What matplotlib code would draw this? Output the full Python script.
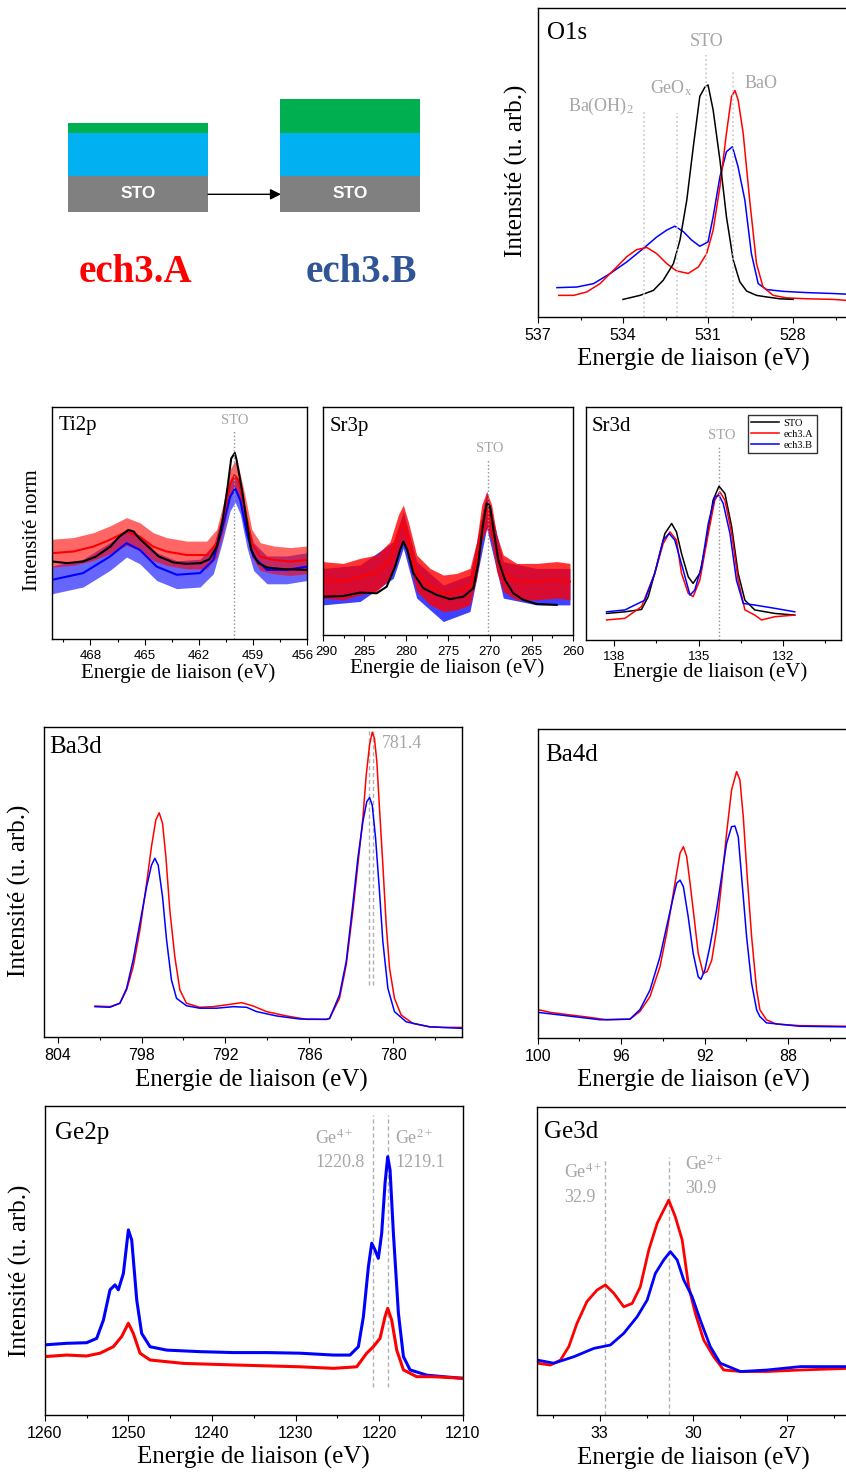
import matplotlib
matplotlib.use('Agg')
import matplotlib.pyplot as plt
from matplotlib.ticker import MultipleLocator
from matplotlib.transforms import ScaledTranslation

# Fonts: serif for labels, sans for the tick numbers
plt.rcParams['font.family'] = ['Liberation Serif', 'DejaVu Serif']
plt.rcParams['mathtext.fontset'] = 'custom'
plt.rcParams['mathtext.rm'] = 'Liberation Serif'
plt.rcParams['mathtext.it'] = 'Liberation Serif:italic'

RED = '#FF0000'
BLUE = '#0000FF'
GRAY = '#A6A6A6'
XLAB = 'Energie de liaison (eV)'

# ---------------- data ----------------
# schematic layer thicknesses (STO, blue layer, green layer)
layer_colors = ['#808080', '#00B0F0', '#00B050']
layers_A = [36, 42.4, 10]
layers_B = [36, 43, 33.4]
sample_names = ['ech3.A', 'ech3.B']

# O1s
o1s_sto_e = [534.0, 533.4, 532.93, 532.58, 532.22, 531.99, 531.75, 531.52, 531.29, 531.11, 531.0, 530.82,
             530.58, 530.35, 530.11, 529.88, 529.64, 529.29, 528.94, 528.47, 528.0]
o1s_sto_y = [0.057, 0.07, 0.086, 0.119, 0.173, 0.249, 0.378, 0.551, 0.714, 0.744, 0.751, 0.670,
             0.508, 0.324, 0.184, 0.114, 0.084, 0.070, 0.065, 0.059, 0.057]
o1s_a_e = [536.27, 535.74, 535.28, 534.81, 534.34, 533.87, 533.52, 533.16, 532.81, 532.46, 532.11, 531.70,
           531.34, 531.05, 530.82, 530.58, 530.35, 530.17, 530.05, 529.94, 529.76, 529.53, 529.29, 529.06,
           528.70, 528.23, 527.53, 526.59, 526.15]
o1s_a_y = [0.07, 0.07, 0.081, 0.108, 0.151, 0.195, 0.218, 0.225, 0.205, 0.173, 0.149, 0.141,
           0.162, 0.205, 0.281, 0.422, 0.595, 0.714, 0.733, 0.703, 0.595, 0.378, 0.173, 0.097,
           0.070, 0.062, 0.059, 0.057, 0.054]
o1s_b_e = [536.33, 535.63, 535.04, 534.45, 533.87, 533.28, 532.81, 532.46, 532.17, 531.87, 531.58, 531.29,
           531.0, 530.82, 530.58, 530.35, 530.14, 529.94, 529.70, 529.47, 529.23, 528.94, 528.35, 527.53,
           526.59, 526.15]
o1s_b_y = [0.095, 0.097, 0.108, 0.141, 0.178, 0.222, 0.259, 0.281, 0.294, 0.276, 0.249, 0.229,
           0.243, 0.324, 0.454, 0.535, 0.551, 0.486, 0.378, 0.205, 0.108, 0.089, 0.083, 0.079,
           0.076, 0.074]
o1s_ref_e = [533.25, 532.1, 531.07, 530.13]
o1s_ref_top = [0.663, 0.66, 0.848, 0.793]

# Ti2p
ti_sto_e = [470.1, 469.3, 468.4, 467.7, 466.9, 466.4, 465.9, 465.6, 465.3, 464.7, 464.2, 463.4, 462.7, 461.9,
            461.4, 461.0, 460.7, 460.4, 460.2, 460.0, 459.9, 459.6, 459.3, 459.1, 458.7, 458.2, 457.3, 456.0]
ti_sto_y = [0.334, 0.327, 0.334, 0.355, 0.398, 0.441, 0.470, 0.463, 0.434, 0.391, 0.355, 0.330, 0.324, 0.327,
            0.344, 0.398, 0.499, 0.656, 0.778, 0.802, 0.771, 0.642, 0.484, 0.384, 0.327, 0.308, 0.301, 0.298]
ti_a_e = [470.13, 468.96, 467.85, 466.93, 466.0, 465.26, 464.52, 463.78, 462.67, 461.56, 461.0, 460.63,
          460.26, 460.02, 459.80, 459.43, 459.06, 458.59, 457.85, 456.93, 456.0]
ti_a_y = [0.370, 0.377, 0.398, 0.427, 0.463, 0.441, 0.398, 0.377, 0.362, 0.362, 0.413, 0.527,
          0.670, 0.706, 0.685, 0.556, 0.413, 0.355, 0.341, 0.334, 0.341]
ti_b_e = [470.13, 468.41, 466.93, 466.0, 465.26, 464.33, 463.22, 461.93, 461.19, 460.72, 460.26, 459.98,
          459.70, 459.33, 458.96, 458.22, 457.11, 456.0]
ti_b_y = [0.255, 0.284, 0.355, 0.413, 0.384, 0.312, 0.277, 0.284, 0.341, 0.470, 0.613, 0.649,
          0.599, 0.456, 0.355, 0.298, 0.298, 0.312]
ti_noise = 0.06

# Sr3p
sr3p_sto_e = [290.0, 287.53, 285.53, 283.54, 282.34, 281.34, 280.74, 280.35, 279.87, 279.15, 277.95, 276.36,
              274.76, 273.16, 271.97, 271.37, 270.85, 270.37, 269.97, 269.49, 268.98, 268.18, 267.18, 265.98,
              264.39, 261.99]
sr3p_sto_y = [0.168, 0.171, 0.186, 0.183, 0.212, 0.300, 0.373, 0.410, 0.373, 0.271, 0.205, 0.176,
              0.157, 0.168, 0.205, 0.315, 0.476, 0.578, 0.564, 0.447, 0.329, 0.242, 0.183, 0.154,
              0.136, 0.132]
sr3p_a_e = [290.0, 287.53, 285.53, 283.54, 281.94, 280.94, 280.35, 279.75, 278.75, 277.15, 275.56, 273.96,
            272.37, 271.57, 270.97, 270.37, 269.77, 269.18, 268.38, 266.78, 264.39, 261.99, 260.40]
sr3p_a_y = [0.242, 0.234, 0.256, 0.271, 0.329, 0.447, 0.490, 0.417, 0.271, 0.212, 0.183, 0.190,
            0.212, 0.329, 0.490, 0.549, 0.490, 0.359, 0.271, 0.234, 0.234, 0.242, 0.234]
sr3p_b_e = [290.0, 285.53, 281.54, 280.35, 278.75, 275.56, 272.37, 270.37, 268.38, 264.39, 260.40]
sr3p_b_y = [0.212, 0.227, 0.329, 0.461, 0.242, 0.139, 0.183, 0.549, 0.242, 0.212, 0.212]
sr3p_noise = 0.08

# Sr3d
sr3d_sto_e = [138.27, 137.62, 137.03, 136.79, 136.50, 136.20, 135.96, 135.79, 135.61, 135.37, 135.20, 134.96,
              134.72, 134.49, 134.28, 134.07, 133.83, 133.60, 133.36, 133.01, 132.30, 131.59]
sr3d_sto_y = [0.114, 0.121, 0.131, 0.186, 0.314, 0.457, 0.500, 0.464, 0.371, 0.271, 0.243, 0.286,
              0.429, 0.600, 0.660, 0.629, 0.486, 0.286, 0.171, 0.129, 0.114, 0.107]
sr3d_a_e = [138.27, 137.62, 137.03, 136.56, 136.26, 136.02, 135.79, 135.61, 135.37, 135.20, 134.96, 134.66,
            134.43, 134.25, 134.07, 133.83, 133.60, 133.36, 133.01, 132.77, 132.30, 131.59]
sr3d_a_y = [0.086, 0.093, 0.143, 0.286, 0.414, 0.464, 0.429, 0.286, 0.200, 0.186, 0.257, 0.457,
            0.600, 0.636, 0.600, 0.457, 0.257, 0.129, 0.107, 0.086, 0.100, 0.107]
sr3d_b_e = [138.27, 137.62, 136.91, 136.56, 136.26, 136.05, 135.85, 135.55, 135.31, 135.14, 134.90, 134.66,
            134.43, 134.28, 134.13, 133.89, 133.66, 133.42, 133.01, 132.30, 131.59]
sr3d_b_y = [0.121, 0.129, 0.171, 0.286, 0.429, 0.457, 0.429, 0.300, 0.193, 0.214, 0.314, 0.500,
            0.614, 0.621, 0.586, 0.457, 0.257, 0.157, 0.150, 0.136, 0.121]

# Ba3d
ba3d_a_e = [801.33, 800.26, 799.55, 799.07, 798.6, 798.12, 797.64, 797.29, 796.98, 796.74, 796.5, 796.26,
            795.98, 795.62, 795.26, 794.79, 793.84, 792.87, 791.44, 790.84, 790.01, 789.06, 787.63, 786.2,
            784.77, 784.55, 783.84, 783.36, 782.89, 782.53, 782.17, 781.93, 781.69, 781.5, 781.34, 781.17,
            780.98, 780.74, 780.5, 780.26, 779.91, 779.43, 778.6, 777.41, 776.43, 775.11]
ba3d_a_y = [0.099, 0.097, 0.108, 0.151, 0.226, 0.344, 0.495, 0.614, 0.700, 0.723, 0.689, 0.581,
            0.409, 0.258, 0.151, 0.108, 0.095, 0.097, 0.106, 0.110, 0.099, 0.081, 0.067, 0.056,
            0.056, 0.059, 0.124, 0.232, 0.404, 0.554, 0.705, 0.845, 0.942, 0.983, 0.963, 0.888,
            0.737, 0.554, 0.361, 0.221, 0.124, 0.070, 0.043, 0.032, 0.030, 0.030]
ba3d_b_e = [801.33, 800.26, 799.55, 799.07, 798.6, 798.12, 797.64, 797.29, 797.05, 796.81, 796.5, 796.21,
            795.86, 795.5, 794.79, 793.84, 792.63, 791.44, 790.49, 789.77, 788.34, 786.67, 784.77, 784.55,
            783.84, 783.36, 782.89, 782.53, 782.17, 781.89, 781.69, 781.5, 781.26, 780.98, 780.74, 780.38,
            779.91, 779.07, 777.41, 775.11]
ba3d_b_y = [0.097, 0.095, 0.108, 0.156, 0.248, 0.366, 0.484, 0.554, 0.576, 0.554, 0.452, 0.312,
            0.183, 0.124, 0.100, 0.092, 0.092, 0.097, 0.095, 0.081, 0.067, 0.057, 0.056, 0.059,
            0.135, 0.243, 0.426, 0.575, 0.694, 0.759, 0.772, 0.748, 0.641, 0.469, 0.307, 0.156,
            0.081, 0.048, 0.032, 0.027]
ba3d_ref_e = [781.72, 781.43]

# Ba4d
ba4d_a_e = [100.0, 99.41, 98.61, 97.65, 96.7, 95.58, 95.1, 94.62, 94.14, 93.82, 93.58, 93.37, 93.18, 93.02,
            92.86, 92.70, 92.51, 92.31, 92.07, 91.88, 91.66, 91.43, 91.19, 90.95, 90.71, 90.47, 90.31,
            90.15, 89.96, 89.75, 89.51, 89.35, 89.04, 88.56, 87.44, 85.24]
ba4d_a_y = [0.092, 0.083, 0.076, 0.068, 0.059, 0.061, 0.086, 0.134, 0.231, 0.339, 0.436, 0.522, 0.598, 0.619,
            0.587, 0.501, 0.393, 0.274, 0.209, 0.215, 0.252, 0.350, 0.501, 0.662, 0.803, 0.862, 0.835,
            0.716, 0.522, 0.328, 0.155, 0.091, 0.059, 0.045, 0.040, 0.038]
ba4d_b_e = [100.0, 98.61, 97.01, 95.58, 95.1, 94.62, 94.14, 93.82, 93.50, 93.34, 93.18, 93.02, 92.79, 92.55,
            92.31, 92.18, 91.99, 91.75, 91.43, 91.19, 90.95, 90.71, 90.55, 90.39, 90.23, 89.99, 89.75,
            89.51, 89.36, 89.04, 87.44, 85.24]
ba4d_b_y = [0.083, 0.072, 0.059, 0.061, 0.092, 0.155, 0.263, 0.361, 0.457, 0.501, 0.511, 0.490, 0.393, 0.274,
            0.198, 0.190, 0.220, 0.296, 0.414, 0.522, 0.630, 0.684, 0.686, 0.651, 0.522, 0.328, 0.177,
            0.091, 0.070, 0.049, 0.038, 0.036]

# Ge2p
ge2p_b_e = [1260.0, 1257.37, 1254.98, 1253.78, 1252.98, 1252.19, 1251.59, 1251.19, 1250.59, 1249.99, 1249.59,
            1248.99, 1248.40, 1247.40, 1245.41, 1241.42, 1237.43, 1233.45, 1229.46, 1225.47, 1223.48, 1222.48,
            1221.88, 1221.28, 1220.88, 1220.49, 1220.09, 1219.69, 1219.29, 1218.97, 1218.69, 1218.29, 1217.69,
            1217.09, 1216.30, 1214.30, 1212.31, 1210.12]
ge2p_b_y = [0.227, 0.232, 0.234, 0.248, 0.307, 0.405, 0.421, 0.405, 0.458, 0.599, 0.566,
            0.372, 0.264, 0.221, 0.210, 0.205, 0.202, 0.202, 0.200, 0.194, 0.194, 0.221,
            0.318, 0.480, 0.556, 0.534, 0.507, 0.588, 0.750, 0.836, 0.793, 0.588, 0.329,
            0.189, 0.146, 0.129, 0.124, 0.119]
ge2p_a_e = [1260.0, 1257.37, 1254.98, 1253.38, 1251.79, 1250.79, 1249.99, 1249.40, 1248.60, 1247.40, 1243.41,
            1237.43, 1229.46, 1225.47, 1222.68, 1221.48, 1220.69, 1219.89, 1219.29, 1218.97, 1218.49, 1217.89,
            1217.09, 1215.50, 1213.50, 1210.12]
ge2p_a_y = [0.189, 0.194, 0.191, 0.200, 0.221, 0.254, 0.297, 0.264, 0.200, 0.178, 0.167,
            0.162, 0.156, 0.151, 0.156, 0.200, 0.221, 0.248, 0.318, 0.345, 0.307, 0.210,
            0.146, 0.124, 0.124, 0.119]
ge2p_ref_e = [1220.7, 1218.9]
ge2p_ref_lab = ['Ge$^{4+}$\n1220.8', 'Ge$^{2+}$\n1219.1']

# Ge3d
ge3d_a_e = [34.99, 34.58, 34.26, 33.99, 33.73, 33.41, 33.09, 32.82, 32.55, 32.23, 31.96, 31.70, 31.43, 31.16,
            30.95, 30.79, 30.58, 30.36, 30.15, 29.94, 29.67, 29.35, 29.03, 28.49, 27.64, 26.57, 25.10]
ge3d_a_y = [0.168, 0.162, 0.178, 0.222, 0.297, 0.368, 0.405, 0.422, 0.395, 0.351, 0.362, 0.416, 0.535, 0.622,
            0.665, 0.697, 0.643, 0.568, 0.416, 0.330, 0.243, 0.189, 0.146, 0.141, 0.141, 0.146, 0.151]
ge3d_b_e = [34.99, 34.47, 33.83, 33.19, 32.66, 32.23, 31.80, 31.48, 31.22, 30.95, 30.74, 30.52, 30.31, 30.04,
            29.78, 29.46, 29.14, 28.49, 27.64, 26.57, 25.10]
ge3d_b_y = [0.178, 0.168, 0.189, 0.216, 0.227, 0.265, 0.319, 0.373, 0.459, 0.503, 0.530, 0.503, 0.438, 0.384,
            0.308, 0.222, 0.168, 0.141, 0.146, 0.157, 0.157]
ge3d_ref_e = [32.82, 30.79]
ge3d_ref_top = [0.827, 0.838]
ge3d_ref_lab = ['Ge$^{4+}$\n32.9', 'Ge$^{2+}$\n30.9']

# ---------------- figure ----------------
W, H = 846, 1475
fig = plt.figure(figsize=(W / 100, H / 100), dpi=100)


def make_ax(box, xlim, major, minor, small=False):
    left, top, right, bottom = box
    ax = fig.add_axes([left / W, 1 - bottom / H, (right - left) / W, (bottom - top) / H])
    ax.set_xlim(xlim)
    ax.set_ylim(0, 1)
    ax.set_yticks([])
    ax.xaxis.set_major_locator(MultipleLocator(major))
    ax.xaxis.set_minor_locator(MultipleLocator(minor))
    ax.tick_params(axis='x', which='major', direction='out', length=4, width=0.8,
                   labelsize=9.5 if small else 11.5, labelfontfamily='Liberation Sans', pad=4)
    ax.tick_params(axis='x', which='minor', direction='out', length=2.5, width=0.8)
    for s in ax.spines.values():
        s.set_linewidth(1.0)
    return ax


def labels(ax, title, tpos, ylab=None, ypos=None, xpos=(0.495, -0.14), small=False):
    fs = 15 if small else 18
    ax.text(tpos[0], tpos[1], title, transform=ax.transAxes, fontsize=fs, ha='left', va='center')
    ax.set_xlabel(XLAB, fontsize=fs, va='center')
    ax.xaxis.set_label_coords(*xpos)
    if ylab:
        ax.set_ylabel(ylab, fontsize=fs, va='center')
        ax.yaxis.set_label_coords(*ypos)


def nudge_tick(ax, value, dx_px):
    # shift one tick label sideways so neighbouring panels' labels do not collide
    locs = list(ax.get_xticks())
    ticks = ax.xaxis.get_major_ticks()
    for loc, t in zip(locs, ticks):
        if abs(loc - value) < 1e-6:
            t.label1.set_transform(t.label1.get_transform() +
                                   ScaledTranslation(dx_px / 100, 0, fig.dpi_scale_trans))


# schematic
axs = fig.add_axes([0, 1 - 300 / H, 440 / W, 220 / H])
axs.set_xlim(0, 440)
axs.set_ylim(0, 220)
axs.axis('off')
for xc, lay in zip([138, 350], [layers_A, layers_B]):
    bottom = 88.3
    for c, t in zip(layer_colors, lay):
        axs.bar(xc, t, bottom=bottom, width=140, color=c, linewidth=0)
        bottom += t
    axs.text(xc, 88.3 + layers_A[0] / 2, 'STO', color='white', fontsize=12.5, fontweight='bold',
             family='Liberation Sans', ha='center', va='center')
axs.annotate('', xy=(281, 105.7), xytext=(208, 105.7),
             arrowprops=dict(arrowstyle='-|>', color='black', lw=1, mutation_scale=16, shrinkA=0, shrinkB=0))
axs.text(135, 28, sample_names[0], color=RED, fontsize=28, fontweight='bold', ha='center', va='center')
axs.text(361, 28, sample_names[1], color='#2F5597', fontsize=28, fontweight='bold', ha='center', va='center')

# O1s
ax = make_ax((538, 8, 852, 317), (537, 525.92), 3, 1.5)
ax.plot(o1s_b_e, o1s_b_y, color=BLUE, lw=1.1)
ax.plot(o1s_a_e, o1s_a_y, color=RED, lw=1.1)
ax.plot(o1s_sto_e, o1s_sto_y, color='black', lw=1.1)
for e, t in zip(o1s_ref_e, o1s_ref_top):
    ax.plot([e, e], [0, t], color='#C8C8C8', lw=1.2, ls=':')
ax.text(531.05, 0.89, 'STO', color=GRAY, fontsize=13, ha='center', va='center')
ax.text(533.05, 0.741, 'GeO$_{\\mathrm{x}}$', color=GRAY, fontsize=13, ha='left', va='center')
ax.text(529.72, 0.757, 'BaO', color=GRAY, fontsize=13, ha='left', va='center')
ax.text(535.93, 0.68, 'Ba(OH)$_{\\mathrm{2}}$', color=GRAY, fontsize=13, ha='left', va='center')
labels(ax, 'O1s', (0.028, 0.919), 'Intensité (u. arb.)', (-0.068, 0.472), (0.494, -0.139))

# Ti2p
ax = make_ax((52, 407, 307, 639), (470.13, 456), 3, 1.5, small=True)
ax.fill_between(ti_b_e, [v - ti_noise for v in ti_b_y], [v + ti_noise for v in ti_b_y],
                color=BLUE, alpha=0.6, lw=0)
ax.plot(ti_b_e, ti_b_y, color=BLUE, lw=1.5)
ax.fill_between(ti_a_e, [v - ti_noise for v in ti_a_y], [v + ti_noise for v in ti_a_y],
                color=RED, alpha=0.6, lw=0)
ax.plot(ti_a_e, ti_a_y, color=RED, lw=1.5)
ax.plot(ti_sto_e, ti_sto_y, color='black', lw=1.5)
ax.plot([460.02, 460.02], [0, 0.9], color='#909090', lw=1, ls=':')
ax.text(460.02, 0.94, 'STO', color=GRAY, fontsize=10.5, ha='center', va='center')
labels(ax, 'Ti2p', (0.025, 0.922), 'Intensité norm', (-0.075, 0.47), (0.496, -0.147), small=True)
nudge_tick(ax, 456, -4)

# Sr3p
ax = make_ax((322.7, 407, 573.3, 635), (290, 260), 5, 2.5, small=True)
ax.fill_between(sr3p_b_e, [v - sr3p_noise for v in sr3p_b_y], [v + sr3p_noise for v in sr3p_b_y],
                color=BLUE, alpha=0.75, lw=0)
ax.fill_between(sr3p_a_e, [v - sr3p_noise for v in sr3p_a_y], [v + sr3p_noise for v in sr3p_a_y],
                color=RED, alpha=0.8, lw=0)
ax.plot(sr3p_a_e, sr3p_a_y, color=RED, lw=1.5)
ax.plot(sr3p_sto_e, sr3p_sto_y, color='black', lw=1.5)
ax.plot([270.17, 270.17], [0, 0.769], color='#909090', lw=1, ls=':')
ax.text(269.97, 0.82, 'STO', color=GRAY, fontsize=10.5, ha='center', va='center')
labels(ax, 'Sr3p', (0.029, 0.914), xpos=(0.495, -0.145), small=True)
nudge_tick(ax, 290, 4)

# Sr3d
ax = make_ax((586, 407, 840.7, 640), (139.0, 129.96), 3, 1.5, small=True)
ax.plot(sr3d_sto_e, sr3d_sto_y, color='black', lw=1.1, label='STO')
ax.plot(sr3d_a_e, sr3d_a_y, color=RED, lw=1.1, label='ech3.A')
ax.plot(sr3d_b_e, sr3d_b_y, color=BLUE, lw=1.1, label='ech3.B')
ax.plot([134.28, 134.28], [0, 0.836], color='#909090', lw=1, ls=':')
ax.text(134.19, 0.879, 'STO', color=GRAY, fontsize=10.5, ha='center', va='center')
leg = ax.legend(loc='upper right', bbox_to_anchor=(0.907, 0.966), fontsize=7.5, frameon=True,
                fancybox=False, edgecolor='black', borderaxespad=0, handlelength=2.6,
                handletextpad=0.5, labelspacing=0.15, borderpad=0.35)
leg.get_frame().set_linewidth(1.0)
labels(ax, 'Sr3d', (0.022, 0.915), xpos=(0.489, -0.136), small=True)

# Ba3d
ax = make_ax((43.7, 727, 461.7, 1036.7), (805.0, 775.1), 6, 3)
for e in ba3d_ref_e:
    ax.plot([e, e], [0.167, 0.997], color='#B0B0B0', lw=1, ls='--', dashes=(3, 2))
ax.plot(ba3d_a_e, ba3d_a_y, color=RED, lw=1.1)
ax.plot(ba3d_b_e, ba3d_b_y, color=BLUE, lw=1.1)
ax.text(780.83, 0.946, '781.4', color=GRAY, fontsize=13, ha='left', va='center')
labels(ax, 'Ba3d', (0.013, 0.936), 'Intensité (u. arb.)', (-0.057, 0.47), (0.497, -0.14))

# Ba4d
ax = make_ax((537.7, 729, 852, 1038), (100, 84.94), 4, 2)
ax.plot(ba4d_a_e, ba4d_a_y, color=RED, lw=1.1)
ax.plot(ba4d_b_e, ba4d_b_y, color=BLUE, lw=1.1)
labels(ax, 'Ba4d', (0.025, 0.916), xpos=(0.494, -0.136))

# Ge2p
ax = make_ax((44.7, 1106, 462.7, 1415), (1260, 1210), 10, 5)
for e in ge2p_ref_e:
    ax.plot([e, e], [0.092, 0.971], color='#B0B0B0', lw=1, ls='--', dashes=(3, 2))
ax.plot(ge2p_b_e, ge2p_b_y, color=BLUE, lw=2.2)
ax.plot(ge2p_a_e, ge2p_a_y, color=RED, lw=2.2)
ax.text(1227.66, 0.858, ge2p_ref_lab[0], color=GRAY, fontsize=13, ha='left', va='center', linespacing=1.5)
ax.text(1218.09, 0.858, ge2p_ref_lab[1], color=GRAY, fontsize=13, ha='left', va='center', linespacing=1.5)
labels(ax, 'Ge2p', (0.024, 0.912), 'Intensité (u. arb.)', (-0.059, 0.466), (0.499, -0.139))

# Ge3d
ax = make_ax((537.3, 1106.7, 852, 1415), (35.0, 24.92), 3, 1.5)
for e, t in zip(ge3d_ref_e, ge3d_ref_top):
    ax.plot([e, e], [0, t], color='#B0B0B0', lw=1, ls='--', dashes=(3, 2))
ax.plot(ge3d_a_e, ge3d_a_y, color=RED, lw=2.0)
ax.plot(ge3d_b_e, ge3d_b_y, color=BLUE, lw=2.0)
ax.text(34.15, 0.749, ge3d_ref_lab[0], color=GRAY, fontsize=13, ha='left', va='center', linespacing=1.5)
ax.text(30.26, 0.776, ge3d_ref_lab[1], color=GRAY, fontsize=13, ha='left', va='center', linespacing=1.5)
labels(ax, 'Ge3d', (0.022, 0.919), xpos=(0.495, -0.14))

fig.savefig('out.png', dpi=100, facecolor='white')
